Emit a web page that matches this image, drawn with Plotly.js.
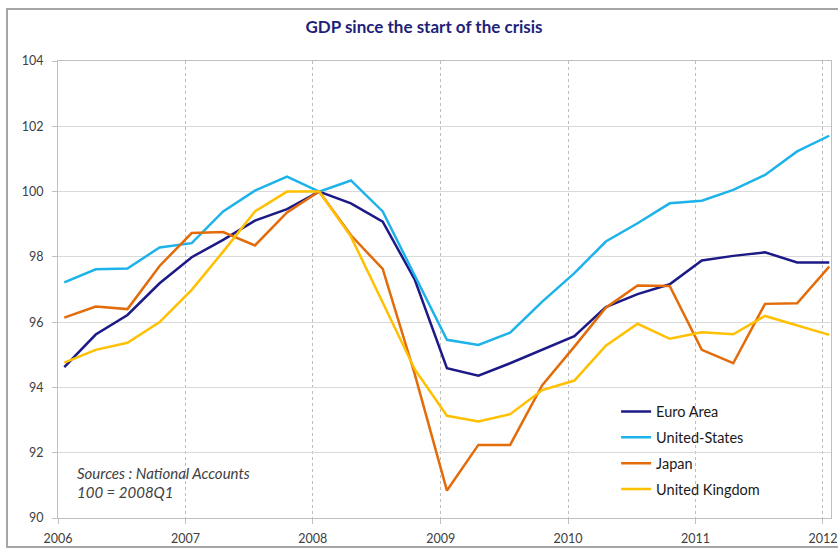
<!DOCTYPE html>
<html>
<head>
<meta charset="utf-8">
<script src="https://cdn.plot.ly/plotly-3.0.1.min.js"></script>
<style>
  html, body { margin: 0; padding: 0; background: #ffffff; }
  #wrap { position: relative; width: 838px; height: 549px; overflow: hidden; }
  #chart { width: 838px; height: 549px; }
  #frame { position: absolute; left: 6px; top: 8px; width: 850px; height: 536px;
           border: 2px solid #A6A6A6; pointer-events: none; }
</style>
</head>
<body>
<div id="wrap">
  <div id="chart"></div>
  <div id="frame"></div>
</div>
<script>
const quarters = ['2006Q1','2006Q2','2006Q3','2006Q4','2007Q1','2007Q2','2007Q3','2007Q4',
  '2008Q1','2008Q2','2008Q3','2008Q4','2009Q1','2009Q2','2009Q3','2009Q4',
  '2010Q1','2010Q2','2010Q3','2010Q4','2011Q1','2011Q2','2011Q3','2011Q4','2012Q1'];

const euroArea = [94.62, 95.62, 96.22, 97.19, 97.99, 98.52, 99.11, 99.46, 100, 99.64, 99.08, 97.30,
  94.59, 94.36, 94.74, 95.15, 95.57, 96.46, 96.86, 97.16, 97.89, 98.03, 98.14, 97.83, 97.83];
const unitedStates = [97.22, 97.62, 97.64, 98.29, 98.42, 99.39, 100.03, 100.46, 100, 100.34, 99.39, 97.42,
  95.46, 95.30, 95.68, 96.63, 97.50, 98.47, 99.03, 99.64, 99.72, 100.05, 100.51, 101.23, 101.71];
const japan = [96.14, 96.48, 96.40, 97.72, 98.73, 98.76, 98.35, 99.36, 100, 98.66, 97.63, 94.40,
  90.84, 92.24, 92.24, 94.07, 95.25, 96.44, 97.12, 97.11, 95.15, 94.74, 96.56, 96.58, 97.70];
const unitedKingdom = [94.76, 95.15, 95.37, 96.00, 96.99, 98.16, 99.39, 100.00, 100, 98.62, 96.60, 94.55,
  93.13, 92.96, 93.18, 93.92, 94.21, 95.28, 95.95, 95.49, 95.69, 95.63, 96.19, 95.90, 95.61];

const yearTicks = ['2006','2007','2008','2009','2010','2011','2012'];
const sourceLines = ['Sources : National Accounts', '100 = 2008Q1'];

// quarter label -> date inside the quarter's first month (Excel-style date placement)
function qDate(q) {
  const y = q.slice(0, 4);
  const n = parseInt(q.slice(5), 10);
  const m = String((n - 1) * 3 + 1).padStart(2, '0');
  return y + '-' + m + '-19';
}
const xDates = quarters.map(qDate);

const FONT = 'Lato, "Open Sans", "DejaVu Sans", sans-serif';

const series = [
  {name: 'Euro Area', y: euroArea, color: '#1C1A86'},
  {name: 'United-States', y: unitedStates, color: '#1DB3EA'},
  {name: 'Japan', y: japan, color: '#E36C0A'},
  {name: 'United Kingdom', y: unitedKingdom, color: '#FFC000'}
];

const traces = series.map((s, i) => ({
  type: 'scatter',
  mode: 'lines',
  name: s.name,
  x: xDates,
  y: s.y,
  legendgroup: 'g' + i,
  line: {color: s.color, width: 2.5},
  hoverinfo: 'x+y+name'
}));

const layout = {
  width: 838,
  height: 549,
  paper_bgcolor: '#ffffff',
  plot_bgcolor: '#ffffff',
  margin: {l: 58, r: 7, t: 61, b: 31, pad: 0},
  font: {family: FONT, size: 12, color: '#595959'},
  title: {
    text: '<b>GDP since the start of the crisis</b>',
    font: {family: FONT, size: 17, color: '#1F1F7A', weight: 'bold'},
    x: 0.506, xanchor: 'center',
    y: 0.951, yanchor: 'middle'
  },
  xaxis: {
    type: 'date',
    range: ['2006-01-01', '2012-01-24'],
    tickvals: yearTicks.map(y => y + '-01-01'),
    ticktext: yearTicks,
    showgrid: true,
    gridcolor: '#BDBDBD',
    griddash: 'dot',
    gridwidth: 1,
    showline: true,
    mirror: true,
    linecolor: '#BFBFBF',
    linewidth: 1,
    ticks: 'outside',
    ticklen: 5,
    tickcolor: '#BFBFBF',
    tickfont: {family: FONT, size: 12.5, color: '#404040'},
    ticklabelstandoff: 4,
    zeroline: false,
    fixedrange: true
  },
  yaxis: {
    range: [90, 104],
    tickvals: [90, 92, 94, 96, 98, 100, 102, 104],
    showgrid: true,
    gridcolor: '#D9D9D9',
    gridwidth: 1,
    showline: true,
    mirror: true,
    linecolor: '#BFBFBF',
    linewidth: 1,
    ticks: 'outside',
    ticklen: 5,
    tickcolor: '#BFBFBF',
    tickfont: {family: FONT, size: 12.5, color: '#404040'},
    ticklabelstandoff: 6,
    zeroline: false,
    fixedrange: true
  },
  showlegend: true,
  legend: {
    x: 0.722, xanchor: 'left',
    y: 0.268, yanchor: 'top',
    bgcolor: 'rgba(255,255,255,0)',
    font: {family: FONT, size: 14.5, color: '#1a1a1a'},
    traceorder: 'grouped',
    tracegroupgap: 4,
    itemwidth: 30
  },
  annotations: sourceLines.map((t, i) => ({
    xref: 'paper', yref: 'paper',
    x: 0.022, y: 0.098 - i * 0.0415, xanchor: 'left', yanchor: 'middle',
    align: 'left',
    text: '<i>' + t + '</i>',
    showarrow: false,
    font: {family: FONT, size: 15, color: '#404040'}
  }))
};

Plotly.newPlot('chart', traces, layout, {displayModeBar: false, staticPlot: true});
</script>
</body>
</html>
